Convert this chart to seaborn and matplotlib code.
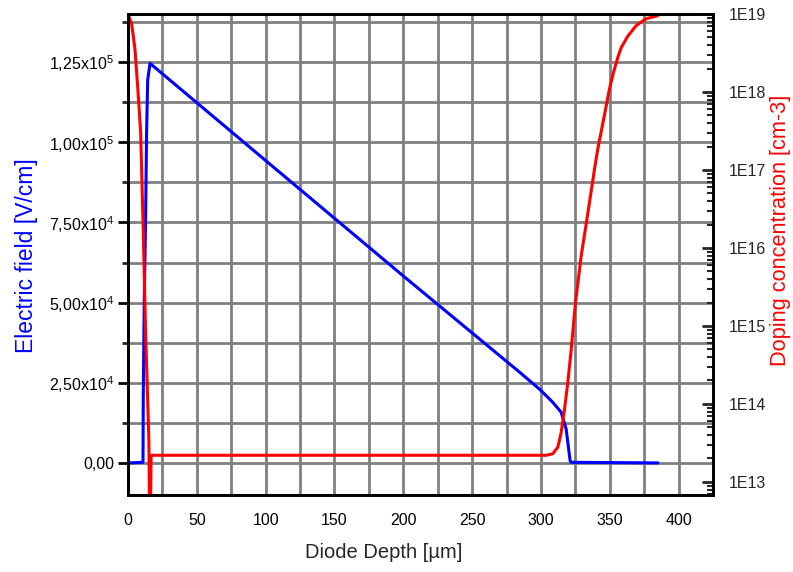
import numpy as np
import pandas as pd
import seaborn as sns
import matplotlib
matplotlib.use("Agg")
import matplotlib.pyplot as plt
from matplotlib.ticker import MultipleLocator, FixedLocator, FixedFormatter, LogLocator, FuncFormatter

# electric field profile (depth in um, field in V/cm)
field_depth = [0.0, 10.9, 11.1, 11.8, 12.8, 13.5, 14.3, 16.0, 100.0, 200.0, 284.5, 299.0,
               308.6, 314.7, 318.3, 321.2, 322.0, 385.0]
field_value = [0, 200, 20900, 50400, 76700, 103000, 119400, 124600, 94300, 58300, 28300, 23000,
               18900, 15800, 10600, 700, 200, 0]

# doping concentration profile (depth in um, cm-3)
dop_depth = [0.0, 2.7, 5.1, 7.5, 9.2, 11.1, 12.8, 14.3, 15.2, 15.9, 16.8, 18.0, 100.0, 200.0, 299.0,
             303.8, 308.6, 312.3, 314.7, 317.1, 319.5, 322.0, 325.1, 329.2, 334.1, 338.9, 341.3,
             344.5, 347.4, 349.8, 352.7, 355.8, 358.3, 363.1, 369.2, 376.4, 384.8]
dop_value = [1.0e19, 7.4e18, 3.5e18, 8.9e17, 3.0e17, 1.6e16, 8.1e14, 1.1e14, 3.2e13, 1.0e12, 2.2e13,
             2.2e13, 2.2e13, 2.2e13, 2.2e13, 2.2e13, 2.3e13, 2.8e13, 4.3e13, 8.5e13, 1.86e14, 5.0e14,
             2.0e15, 7.8e15, 2.8e16, 1.02e17, 1.86e17, 3.6e17, 6.6e17, 1.1e18, 1.78e18, 2.75e18,
             3.7e18, 5.2e18, 7.1e18, 8.7e18, 9.5e18]

field_ticks = [0, 25000, 50000, 75000, 100000, 125000]
field_labels = ["0,00", r"2,50x10$^{4}$", r"5,00x10$^{4}$", r"7,50x10$^{4}$",
                r"1,00x10$^{5}$", r"1,25x10$^{5}$"]

df_field = pd.DataFrame({"depth": field_depth, "field": field_value})
df_dop = pd.DataFrame({"depth": dop_depth, "doping": dop_value})

sns.set_style("white")
plt.rcParams['font.family'] = ['Liberation Sans', 'DejaVu Sans']
plt.rcParams['mathtext.fontset'] = 'custom'
plt.rcParams['mathtext.rm'] = 'Liberation Sans'
plt.rcParams['mathtext.it'] = 'Liberation Sans'

fig = plt.figure(figsize=(7.93, 5.72), dpi=100)
ax = fig.add_axes([128/793, 1-495/572, 585/793, 481/572])
ax2 = ax.twinx()

grid_col = "#808080"
ax.set_xlim(0, 425)
ax.set_ylim(-10000, 140000)
ax.xaxis.set_major_locator(MultipleLocator(50))
ax.xaxis.set_minor_locator(MultipleLocator(25))
ax.yaxis.set_major_locator(FixedLocator(field_ticks))
ax.yaxis.set_major_formatter(FixedFormatter(field_labels))
ax.yaxis.set_minor_locator(MultipleLocator(12500))
ax.grid(which='both', color=grid_col, linewidth=2)
ax.set_axisbelow(True)

sns.lineplot(data=df_field, x="depth", y="field", ax=ax, color="#0000ff", linewidth=2.2, sort=False, zorder=3)
sns.lineplot(data=df_dop, x="depth", y="doping", ax=ax2, color="#ff0000", linewidth=2.2, sort=False)
ax2.set_xlabel("")

ax2.set_yscale('log')
ax2.set_ylim(10**12.833, 1e19)
ax2.yaxis.set_major_locator(LogLocator(base=10, numticks=20))
ax2.yaxis.set_minor_locator(LogLocator(base=10, subs=np.arange(2, 10), numticks=20))
ax2.yaxis.set_major_formatter(FuncFormatter(lambda v, p: "1E%d" % round(np.log10(v))))

for a in (ax, ax2):
    for s in a.spines.values():
        s.set_linewidth(2)
        s.set_color("black")

ax.tick_params(axis='both', which='major', direction='out', length=7, width=2, labelsize=11.5, colors='black', pad=3)
ax.tick_params(axis='both', which='minor', direction='out', length=4, width=2)
ax.tick_params(axis='x', which='major', pad=6)
ax2.tick_params(axis='y', which='major', direction='in', length=8, width=2, labelsize=11.5, pad=11)
ax2.tick_params(axis='y', which='minor', direction='in', length=4, width=1.5)

ax.set_xlabel("Diode Depth [µm]", fontsize=14.5)
ax.set_ylabel("Electric field [V/cm]", fontsize=16.5, color="#0000ff")
ax2.set_ylabel("Doping concentration [cm-3]", fontsize=15.7, color="#ff0000")
ax.xaxis.set_label_coords(0.4376, -0.1)
ax.yaxis.set_label_coords(-0.154, 0.497)
ax2.yaxis.set_label_coords(1.097, 0.551)

fig.savefig("out.png", dpi=100)
